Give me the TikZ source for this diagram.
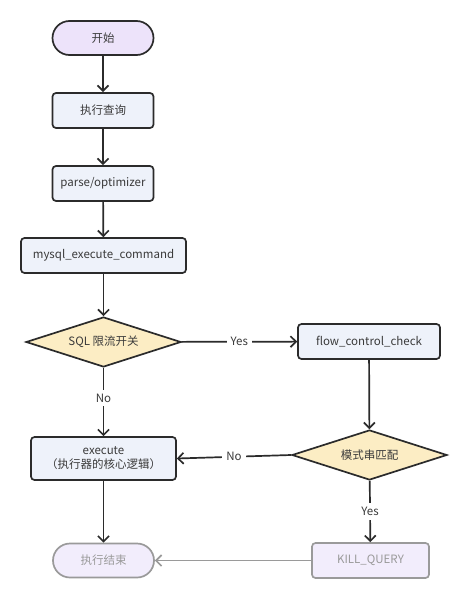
\documentclass[tikz,border=0pt]{standalone}
\usepackage{fontspec}
\setmainfont{Noto Sans CJK SC}
\usetikzlibrary{shapes.geometric,arrows.meta}
\definecolor{boxfill}{HTML}{EEF2FA}
\definecolor{startfill}{HTML}{EDE3FA}
\definecolor{diafill}{HTML}{FCEDC4}
\definecolor{lineclr}{HTML}{2B2B2B}
\definecolor{textclr}{HTML}{3A3A3A}
\definecolor{fadeclr}{HTML}{9A9A9A}
\definecolor{fadefill}{HTML}{F2EDFC}
\tikzset{
  x=1pt, y=-1pt,
  every node/.style={font=\fontsize{11.5}{14}\selectfont, text=textclr},
  procbox/.style={draw=lineclr, line width=1.7pt, fill=boxfill, rounded corners=3.5pt, minimum height=35pt, align=center},
  termbox/.style={draw=lineclr, line width=1.7pt, fill=startfill, rounded corners=17pt, minimum height=34pt, minimum width=101pt},
  decbox/.style={draw=lineclr, line width=1.7pt, fill=diafill, diamond, aspect=3.1, minimum width=155pt, minimum height=50pt, inner sep=0pt},
  fadebox/.style={draw=fadeclr, fill=fadefill, text=fadeclr},
  flow/.style={draw=lineclr, line width=1.7pt, -{Straight Barb[length=5.5pt,width=11pt]}},
  lbl/.style={fill=white, inner sep=4pt, text=textclr}
}
\begin{document}
\begin{tikzpicture}
\useasboundingbox (0,0) rectangle (469,600);
\fill[white] (0,0) rectangle (469,600);
\node[termbox] (start) at (103,38) {开始};
\node[procbox, minimum width=101pt] (query) at (103,110.5) {执行查询};
\node[procbox, minimum width=101pt] (parse) at (103,183.5) {parse/optimizer};
\node[procbox, minimum width=165pt] (mysql) at (103.5,255.5) {mysql\_execute\_command};
\node[decbox] (sqlsw) at (103.5,342) {SQL 限流开关};
\node[procbox, minimum width=142pt] (fcc) at (369,341.5) {flow\_control\_check};
\node[decbox] (match) at (369.5,455) {模式串匹配};
\node[procbox, minimum width=145pt, minimum height=43pt, inner sep=2pt] (exec) at (103.5,458.5) {execute\\（执行器的核心逻辑）};
\node[termbox, fadebox] (end) at (103.5,560.5) {执行结束};
\node[procbox, fadebox, minimum width=117pt] (kill) at (370.5,560.5) {KILL\_QUERY};

\draw[flow] (start) -- (query);
\draw[flow] (query) -- (parse);
\draw[flow] (parse) -- (mysql);
\draw[flow] (mysql) -- (sqlsw);
\draw[flow] (sqlsw) -- node[lbl]{Yes} (fcc);
\draw[flow] (sqlsw) -- node[lbl, pos=0.44]{No} (exec);
\draw[flow] (fcc) -- (match);
\draw[flow] (match.west) -- node[lbl]{No} (exec.east);
\draw[flow] (match) -- node[lbl]{Yes} (kill);
\draw[flow, draw=fadeclr] (kill) -- (end);
\draw[flow] (exec) -- (end);
\end{tikzpicture}
\end{document}
